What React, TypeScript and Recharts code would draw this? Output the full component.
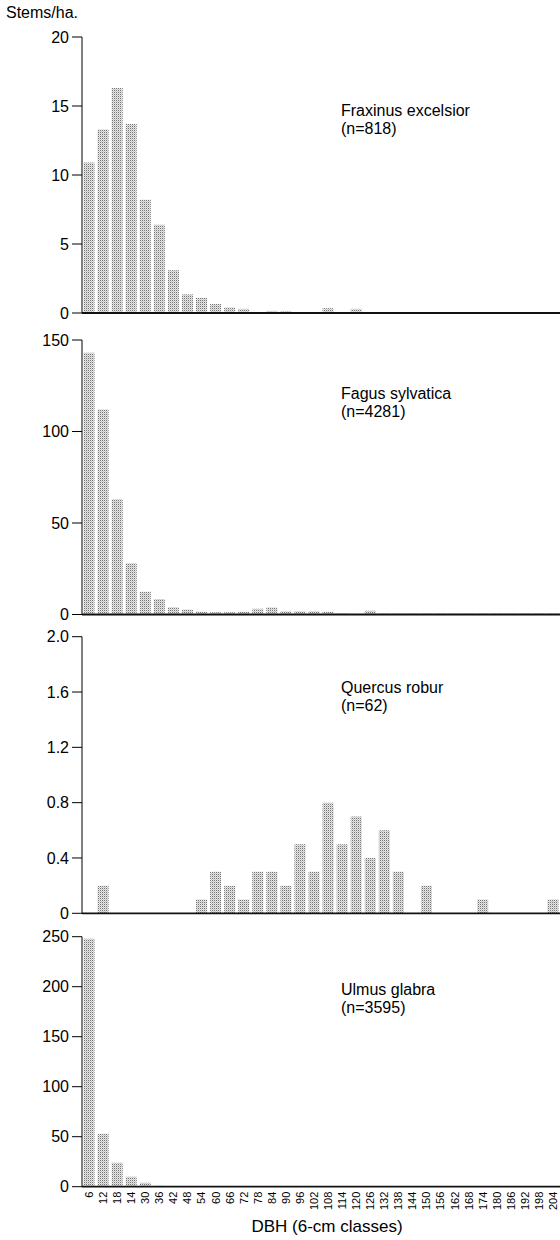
import React from "react";
import { BarChart, Bar, XAxis, YAxis } from "recharts";

const classes = [
    "6", "12", "18", "14", "30", "36", "42", "48", "54", "60", "66", "72",
    "78", "84", "90", "96", "102", "108", "114", "120", "126", "132", "138",
    "144", "150", "156", "162", "168", "174", "180", "186", "192", "198", "204",
];

const fraxinus = [
    10.9, 13.3, 16.3, 13.7, 8.2, 6.4, 3.1, 1.35, 1.1, 0.65, 0.4, 0.3, 0, 0.15,
    0.15, 0.05, 0.05, 0.35, 0, 0.3, 0, 0, 0, 0, 0, 0, 0, 0.05, 0.05, 0.05, 0.05,
    0.05, 0.05, 0.05,
];

const fagus = [
    143, 112, 63, 28, 12.5, 8.5, 4, 2.7, 1.5, 1.2, 1.2, 1.5, 3.2, 3.8, 1.8, 1.8,
    1.8, 1.5, 0.5, 0.3, 2, 0.5, 0.5, 0.5, 0.5, 0.5, 0.5, 0.5, 0.5, 0.5, 0.5, 0.5,
    0.5, 0.5,
];

const quercus = [
    0, 0.2, 0, 0, 0, 0, 0, 0, 0.1, 0.3, 0.2, 0.1, 0.3, 0.3, 0.2, 0.5, 0.3, 0.8,
    0.5, 0.7, 0.4, 0.6, 0.3, 0, 0.2, 0, 0, 0, 0.1, 0, 0, 0, 0, 0.1,
];

const ulmus = [
    248, 53, 24, 10, 4, 1, 0.5, 0.5, 0.5, 0.5, 0.5, 0.5, 0.5, 0.5, 0.5, 0.5, 0.5,
    0.5, 0.5, 0.5, 0.5, 0.5, 0.5, 0.5, 0.5, 0.5, 0.5, 0.5, 0.5, 0.5, 0.5, 0.5,
    0.5, 0.5,
];

const fraxinusTicks = [0, 5, 10, 15, 20];
const fagusTicks = [0, 50, 100, 150];
const quercusTicks = [0, 0.4, 0.8, 1.2, 1.6, 2.0];
const ulmusTicks = [0, 50, 100, 150, 200, 250];

const font = "'Liberation Sans', Arial, Helvetica, sans-serif";

type PanelProps = {
    id: string;
    values: number[];
    ticks: number[];
    top: number;
    height: number;
    marginTop: number;
    marginBottom: number;
    xAxisHeight: number;
    name: string;
    count: string;
    labelTop: number;
    showLabels?: boolean;
    decimals?: boolean;
};

function XTick(props: any) {
    const { x, y, payload } = props;
    return (
        <text
            x={x}
            y={y}
            transform={`rotate(-90 ${x} ${y})`}
            textAnchor="end"
            dominantBaseline="central"
            fontSize={11}
            fontFamily={font}
            fill="#000"
        >
            {payload.value}
        </text>
    );
}

function Panel({
    id,
    values,
    ticks,
    top,
    height,
    marginTop,
    marginBottom,
    xAxisHeight,
    name,
    count,
    labelTop,
    showLabels,
    decimals,
}: PanelProps) {
    const data = classes.map((c, i) => ({ dbh: c, stems: values[i] }));
    const max = ticks[ticks.length - 1];

    return (
        <div style={{ position: "absolute", left: 0, top, width: 560, height }}>
            <BarChart
                width={560}
                height={height}
                data={data}
                margin={{ top: marginTop, right: 0, bottom: marginBottom, left: 0 }}
                barCategoryGap="11%"
            >
                <defs>
                    <pattern
                        id={id}
                        width={2}
                        height={2}
                        patternUnits="userSpaceOnUse"
                    >
                        <rect width={2} height={2} fill="#e6e6e6" />
                        <rect width={1} height={1} fill="#747474" />
                        <rect x={1} y={1} width={1} height={1} fill="#c6c6c6" />
                    </pattern>
                </defs>
                <XAxis
                    dataKey="dbh"
                    interval={0}
                    height={xAxisHeight}
                    tickLine={false}
                    tickSize={3}
                    tickMargin={2}
                    tick={showLabels ? <XTick /> : false}
                    axisLine={{ stroke: "#111", strokeWidth: 1.8 }}
                />
                <YAxis
                    width={82}
                    domain={[0, max]}
                    ticks={ticks}
                    interval={0}
                    allowDataOverflow
                    tickSize={10}
                    tickMargin={3}
                    tick={{ fontSize: 16, fill: "#000", fontFamily: font }}
                    tickFormatter={(v: number) =>
                        decimals && v !== 0 ? v.toFixed(1) : String(v)
                    }
                    axisLine={{ stroke: "#000" }}
                    tickLine={{ stroke: "#000" }}
                />
                <Bar dataKey="stems" fill={`url(#${id})`} isAnimationActive={false} />
            </BarChart>
            <div
                style={{
                    position: "absolute",
                    left: 341,
                    top: labelTop,
                    fontFamily: font,
                    fontSize: 16,
                    lineHeight: "18px",
                    color: "#000",
                }}
            >
                <div>{name}</div>
                <div>{count}</div>
            </div>
        </div>
    );
}

export default function App() {
    return (
        <div
            style={{
                position: "absolute",
                left: 0,
                top: 0,
                width: 560,
                height: 1240,
                overflow: "hidden",
                background: "#fff",
            }}
        >
            <div
                style={{
                    position: "absolute",
                    left: 6,
                    top: 4,
                    fontFamily: font,
                    fontSize: 16,
                    color: "#000",
                }}
            >
                Stems/ha.
            </div>
            <Panel
                id="dotsA"
                values={fraxinus}
                ticks={fraxinusTicks}
                top={0}
                height={330}
                marginTop={37}
                marginBottom={15}
                xAxisHeight={2}
                name="Fraxinus excelsior"
                count="(n=818)"
                labelTop={102}
            />
            <Panel
                id="dotsB"
                values={fagus}
                ticks={fagusTicks}
                top={320}
                height={310}
                marginTop={20}
                marginBottom={13.5}
                xAxisHeight={2}
                name="Fagus sylvatica"
                count="(n=4281)"
                labelTop={65}
            />
            <Panel
                id="dotsC"
                values={quercus}
                ticks={quercusTicks}
                top={620}
                height={310}
                marginTop={16.7}
                marginBottom={14.7}
                xAxisHeight={2}
                name="Quercus robur"
                count="(n=62)"
                labelTop={59}
                decimals
            />
            <Panel
                id="dotsD"
                values={ulmus}
                ticks={ulmusTicks}
                top={920}
                height={320}
                marginTop={16.7}
                marginBottom={25.3}
                xAxisHeight={28}
                name="Ulmus glabra"
                count="(n=3595)"
                labelTop={61}
                showLabels
            />
            <div
                style={{
                    position: "absolute",
                    left: 0,
                    width: 654,
                    top: 1217,
                    textAlign: "center",
                    fontFamily: font,
                    fontSize: 17,
                    color: "#000",
                }}
            >
                DBH (6-cm classes)
            </div>
        </div>
    );
}
